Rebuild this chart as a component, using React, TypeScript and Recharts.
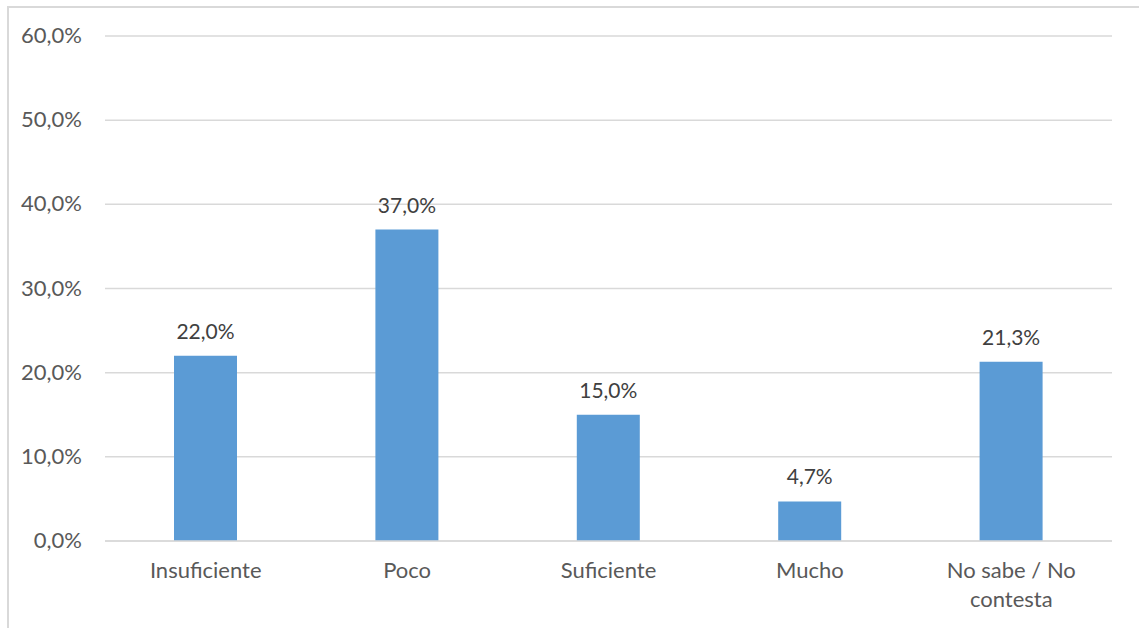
import { BarChart, Bar, XAxis, YAxis, CartesianGrid, LabelList } from "recharts";

const categories = ["Insuficiente", "Poco", "Suficiente", "Mucho", "No sabe / No contesta"];
const values = [22.0, 37.0, 15.0, 4.7, 21.3];
const yTicks = [0, 10, 20, 30, 40, 50, 60];

const data = categories.map((name, i) => ({ name, value: values[i] }));

const FONT = "Lato, 'Open Sans', sans-serif";
const fmt = (v: number) => v.toFixed(1).replace(".", ",") + "%";

const YTick = (props: any) => {
  const { x, y, payload } = props;
  return (
    <text x={x} y={y} dy={7} textAnchor="end" fill="#595959" fontSize={22} fontFamily={FONT}>
      {fmt(payload.value)}
    </text>
  );
};

const XTick = (props: any) => {
  const { x, y, payload } = props;
  const lines: string[] = payload.value === "No sabe / No contesta" ? ["No sabe / No", "contesta"] : [payload.value];
  return (
    <text x={x} y={y} textAnchor="middle" fill="#595959" fontSize={22} fontFamily={FONT}>
      {lines.map((l, i) => (
        <tspan key={i} x={x} dy={i === 0 ? 29 : 29}>
          {l}
        </tspan>
      ))}
    </text>
  );
};

const ValueLabel = (props: any) => {
  const { x, y, width, value } = props;
  return (
    <text x={x + width / 2} y={y - 17} textAnchor="middle" fill="#404040" fontSize={21} fontFamily={FONT}>
      {fmt(value)}
    </text>
  );
};

export default function App() {
  return (
    <div style={{ position: "absolute", left: 0, top: 0, width: 1139, height: 628, overflow: "hidden", background: "#fff" }}>
      <div style={{ position: "absolute", left: 7, top: 6, width: 1300, height: 800, border: "2px solid #d9d9d9", boxSizing: "border-box" }} />
      <div style={{ position: "absolute", left: 0, top: 0 }}>
        <BarChart width={1139} height={628} data={data} margin={{ top: 36, right: 27, bottom: 57, left: 0 }} barSize={63}>
          <CartesianGrid vertical={false} stroke="#d9d9d9" strokeWidth={1.5} />
          <XAxis dataKey="name" height={30} tick={<XTick />} tickLine={false} axisLine={{ stroke: "#d9d9d9", strokeWidth: 1.5 }} interval={0} />
          <YAxis width={105} domain={[0, 60]} ticks={yTicks} tick={<YTick />} tickLine={false} axisLine={false} tickMargin={0} tickSize={23} />
          <Bar dataKey="value" fill="#5b9bd5" isAnimationActive={false}>
            <LabelList dataKey="value" content={<ValueLabel />} />
          </Bar>
        </BarChart>
      </div>
    </div>
  );
}
